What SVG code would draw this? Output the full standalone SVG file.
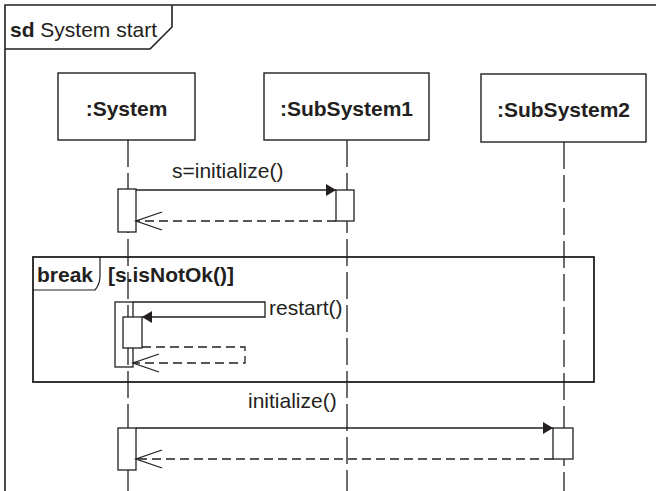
<svg xmlns="http://www.w3.org/2000/svg" width="656" height="491" viewBox="0 0 656 491">
<defs>
<style>
.frame{fill:none;stroke:#231f20;stroke-width:1.6}
.box{fill:#fff;stroke:#231f20;stroke-width:1.4}
.act{fill:#fff;stroke:#231f20;stroke-width:1.3}
.life{fill:none;stroke:#231f20;stroke-width:1.3;stroke-dasharray:27 6}
.msg{fill:none;stroke:#231f20;stroke-width:1.3}
.ret{fill:none;stroke:#231f20;stroke-width:1.3;stroke-dasharray:9 5}
.t{font-family:"Liberation Sans",Arial,sans-serif;font-size:21px;fill:#231f20}
.b{font-family:"Liberation Sans",Arial,sans-serif;font-size:21px;font-weight:bold;fill:#231f20}
</style>
<marker id="filled" markerUnits="userSpaceOnUse" markerWidth="11" markerHeight="13" refX="10" refY="6" orient="auto" overflow="visible">
<path d="M0,0 L10,6 L0,12 z" fill="#231f20"/>
</marker>
<marker id="open" markerUnits="userSpaceOnUse" markerWidth="27" markerHeight="19" refX="26" refY="9" orient="auto" overflow="visible">
<path d="M0,0 L26,9 L0,18" fill="none" stroke="#231f20" stroke-width="1.3"/>
</marker>
</defs>
<rect width="656" height="491" fill="#fff"/>
<g id="frame">
<path class="frame" d="M5,491 V5 H656"/>
<path class="frame" d="M5,49 H150 L172,27 V5"/>
<text x="10" y="37" class="t"><tspan font-weight="bold">sd</tspan> System start</text>
</g>
<g id="lifelines">
<line class="life" x1="128" y1="140" x2="128" y2="491"/>
<line class="life" x1="347" y1="140" x2="347" y2="491"/>
<line class="life" x1="564" y1="142" x2="564" y2="491"/>
</g>
<g id="system">
<rect class="box" x="58" y="73" width="137" height="67"/>
<text x="126.5" y="116" class="b" text-anchor="middle">:System</text>
</g>
<g id="subsystem1">
<rect class="box" x="264" y="73" width="165" height="67"/>
<text x="346.5" y="116" class="b" text-anchor="middle">:SubSystem1</text>
</g>
<g id="subsystem2">
<rect class="box" x="481" y="74" width="165" height="68"/>
<text x="563.5" y="117" class="b" text-anchor="middle">:SubSystem2</text>
</g>
<g id="break">
<rect x="33" y="257" width="561" height="125" fill="none" stroke="#231f20" stroke-width="1.8"/>
<path d="M33,290 H95 Q100,284 100,276 V257" fill="none" stroke="#231f20" stroke-width="1.2"/>
<text x="37" y="282" class="b">break</text>
<text x="108" y="282" class="b">[s.isNotOk()]</text>
</g>
<g id="activations">
<rect class="act" x="118" y="189" width="18" height="43"/>
<rect class="act" x="336" y="190" width="18" height="31"/>
<rect x="115" y="302" width="18" height="65" fill="none" stroke="#231f20" stroke-width="1.3"/>
<rect class="act" x="123" y="317" width="19" height="31"/>
<rect class="act" x="118" y="428" width="18" height="42"/>
<rect class="act" x="553" y="428" width="20" height="31"/>
</g>
<g id="connectors">
<line class="msg" x1="136" y1="190" x2="336" y2="190" marker-end="url(#filled)"/>
<text x="172" y="178" class="t">s=initialize()</text>
<line class="ret" x1="336" y1="221" x2="136" y2="221" marker-end="url(#open)"/>
<path class="msg" d="M133,302 H265 V317 H142" marker-end="url(#filled)"/>
<text x="269" y="315" class="t">restart()</text>
<path class="ret" d="M142,347 H245 V363 H133" marker-end="url(#open)"/>
<line class="msg" x1="136" y1="428" x2="553" y2="428" marker-end="url(#filled)"/>
<text x="248" y="408" class="t">initialize()</text>
<line class="ret" x1="553" y1="459" x2="136" y2="459" marker-end="url(#open)"/>
</g>
</svg>
